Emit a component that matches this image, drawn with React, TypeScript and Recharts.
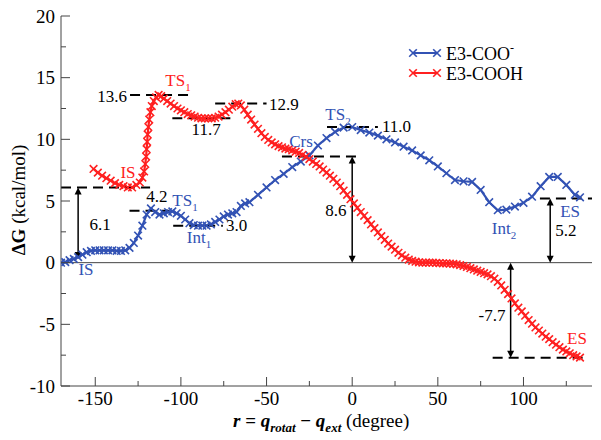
import React from 'react';
import { LineChart, Line, XAxis, YAxis, ReferenceLine, ReferenceDot, Label } from 'recharts';

// E3-COO- (blue)
const blueX = [-170, -167.5, -165, -162.5, -160, -157.5, -155, -152.5, -150, -147.5, -145, -142.5, -140, -137.5, -135, -132.5, -130, -127.5, -125, -122.5, -120, -117.5, -115, -112.5, -110, -107.5, -105, -102.5, -100, -97.5, -95, -92.5, -90, -87.5, -85, -82.5, -80, -77.5, -75, -72.5, -70, -67.5, -65, -62.5, -60, -55, -50, -45, -40, -35, -30, -25, -20, -15, -10, -5, 0, 5, 10, 15, 20, 25, 30, 35, 40, 45, 50, 55, 60, 65, 70, 75, 80, 85, 90, 95, 100, 105, 110, 115, 120, 125, 130, 133];
const blueY = [0.0, 0.05, 0.2, 0.3, 0.45, 0.65, 0.85, 0.95, 1.0, 1.0, 1.0, 1.0, 1.0, 0.95, 0.95, 1.0, 1.2, 1.6, 2.2, 3.0, 3.9, 4.4, 4.1, 3.9, 4.0, 4.1, 4.15, 4.0, 3.8, 3.5, 3.2, 3.05, 3.0, 3.0, 3.0, 3.1, 3.3, 3.5, 3.75, 3.9, 4.0, 4.1, 4.6, 4.8, 4.9, 5.5, 6.1, 6.7, 7.2, 7.75, 8.2, 8.7, 9.5, 10.1, 10.6, 10.95, 11.0, 10.75, 10.55, 10.3, 10.0, 9.75, 9.4, 9.1, 8.7, 8.3, 7.8, 7.25, 6.7, 6.6, 6.55, 5.9, 4.9, 4.25, 4.3, 4.55, 4.85, 5.35, 6.2, 6.95, 6.95, 6.3, 5.5, 5.3];

// E3-COOH (red)
const redX = [-151, -148.5, -146, -143.5, -141, -138.5, -136, -133.5, -131, -128.5, -126, -124, -122.5, -121.5, -120.8, -120.3, -120, -119.7, -119.4, -119, -118.5, -117.8, -117, -115.8, -114.5, -113, -111.5, -110, -108, -106, -104, -102, -100, -98, -96, -94, -92, -90, -88, -86, -84, -82, -80, -78, -76, -74, -72, -70, -68, -66.5, -65, -63, -61, -59, -57, -55, -53, -51, -49, -47, -45, -43, -41, -39, -37, -35, -33, -31, -29, -27, -25, -23, -21, -19, -17, -15, -13, -11, -9, -7, -5, -3, -1, 1, 3, 5, 7, 9, 11, 13, 15, 17, 19, 21, 23, 25, 27, 29, 31, 33, 35, 37, 39, 41, 43, 45, 47, 49, 51, 53, 55, 57, 59, 61, 63, 65, 67, 69, 71, 73, 75, 77, 79, 81, 83, 85, 87, 89, 91, 93, 95, 97, 99, 101, 103, 105, 107, 109, 111, 113, 115, 117, 119, 121, 123, 125, 127, 129, 131, 133];
const redY = [7.6, 7.3, 7.05, 6.85, 6.65, 6.45, 6.3, 6.2, 6.1, 6.1, 6.3, 6.5, 6.9, 7.4, 8.0, 8.6, 9.2, 9.8, 10.4, 11.0, 11.6, 12.2, 12.7, 13.1, 13.4, 13.6, 13.5, 13.3, 13.1, 12.9, 12.7, 12.5, 12.35, 12.2, 12.05, 11.95, 11.85, 11.75, 11.7, 11.7, 11.7, 11.7, 11.75, 11.85, 12.0, 12.2, 12.4, 12.65, 12.85, 12.9, 12.75, 12.4, 12.0, 11.6, 11.2, 10.85, 10.5, 10.2, 9.95, 9.75, 9.6, 9.45, 9.35, 9.25, 9.2, 9.1, 9.0, 8.9, 8.75, 8.6, 8.4, 8.2, 8.0, 7.8, 7.55, 7.3, 7.05, 6.8, 6.5, 6.2, 5.85, 5.5, 5.15, 4.8, 4.45, 4.1, 3.8, 3.45, 3.1, 2.8, 2.45, 2.15, 1.85, 1.55, 1.3, 1.05, 0.8, 0.6, 0.4, 0.25, 0.15, 0.08, 0.03, 0.0, 0.0, 0.0, 0.0, -0.02, -0.03, -0.05, -0.05, -0.07, -0.1, -0.13, -0.2, -0.27, -0.35, -0.45, -0.55, -0.65, -0.75, -0.85, -0.95, -1.1, -1.3, -1.55, -1.85, -2.2, -2.55, -2.9, -3.3, -3.65, -3.95, -4.3, -4.65, -4.95, -5.25, -5.5, -5.75, -6.0, -6.2, -6.45, -6.65, -6.85, -7.05, -7.2, -7.35, -7.5, -7.6, -7.7];

const xTicks = [-150, -125, -100, -75, -50, -25, 0, 25, 50, 75, 100, 125];
const yTicks = [-10, -7.5, -5, -2.5, 0, 2.5, 5, 7.5, 10, 12.5, 15, 17.5, 20];

const blueData = blueX.map((x, i) => ({ x, y: blueY[i] }));
const redData = redX.map((x, i) => ({ x, y: redY[i] }));

const BLUE = '#3252b4';
const RED = '#ff2020';
const FRAME = '#444';
const serif = { fontFamily: "'Liberation Serif', 'Times New Roman', serif" };

// dashed energy levels
const levels = [
  { y: 6.1, from: -170, to: -118 },
  { y: 4.2, from: -130, to: -107 },
  { y: 13.6, from: -129.7, to: -93.5 },
  { y: 11.7, from: -105, to: -70 },
  { y: 12.9, from: -80, to: -50 },
  { y: 3.0, from: -104.5, to: -75.5 },
  { y: 8.6, from: -41, to: 3.5 },
  { y: 11.0, from: -14.7, to: 15 },
  { y: 5.2, from: 109.6, to: 140 },
  { y: -7.7, from: 82, to: 134.7 },
];

// double arrows
const arrows = [
  { x: -160, a: 0.3, b: 6.1 },
  { x: 0, a: 0, b: 8.6 },
  { x: 115.6, a: 0, b: 5.2 },
  { x: 92.5, a: 0, b: -7.7 },
];

const Cross = (props: any) => {
  const { cx, cy, stroke } = props;
  if (cx == null || cy == null) return null;
  const s = 3.8;
  return (
    <g>
      <line x1={cx - s} y1={cy - s} x2={cx + s} y2={cy + s} stroke={stroke} strokeWidth={1.6} />
      <line x1={cx - s} y1={cy + s} x2={cx + s} y2={cy - s} stroke={stroke} strokeWidth={1.6} />
    </g>
  );
};

const tickLen = (v: number, step: number) => (Math.abs(v % step) < 1e-6 ? 9 : 5);

const BottomTick = (props: any) => {
  const { x, y, payload } = props;
  const v = payload.value;
  const len = tickLen(v, 50);
  return (
    <g>
      <line x1={x} y1={y} x2={x} y2={y - len} stroke={FRAME} strokeWidth={1} />
      {len === 9 && (
        <text x={x} y={y + 19} textAnchor="middle" fontSize={19} style={serif} fill="#000">
          {v}
        </text>
      )}
    </g>
  );
};

const TopTick = (props: any) => {
  const { x, y, payload } = props;
  const len = tickLen(payload.value, 50);
  return <line x1={x} y1={y} x2={x} y2={y + len} stroke={FRAME} strokeWidth={1} />;
};

const LeftTick = (props: any) => {
  const { x, y, payload } = props;
  const v = payload.value;
  const len = tickLen(v, 5);
  return (
    <g>
      <line x1={x} y1={y} x2={x + len} y2={y} stroke={FRAME} strokeWidth={1} />
      {len === 9 && (
        <text x={x - 6} y={y + 6.5} textAnchor="end" fontSize={19} style={serif} fill="#000">
          {v}
        </text>
      )}
    </g>
  );
};

const RightTick = (props: any) => {
  const { x, y, payload } = props;
  const len = tickLen(payload.value, 5);
  return <line x1={x} y1={y} x2={x - len} y2={y} stroke={FRAME} strokeWidth={1} />;
};

const ArrowShape = (p: any) => {
  const { x1, y1, y2 } = p;
  const top = Math.min(y1, y2);
  const bot = Math.max(y1, y2);
  const h = 7;
  const w = 3.5;
  return (
    <g>
      <line x1={x1} x2={x1} y1={top + h - 1} y2={bot - h + 1} stroke="#000" strokeWidth={1.5} />
      <polygon points={`${x1},${top} ${x1 - w},${top + h} ${x1 + w},${top + h}`} fill="#000" />
      <polygon points={`${x1},${bot} ${x1 - w},${bot - h} ${x1 + w},${bot - h}`} fill="#000" />
    </g>
  );
};

const tag = (
  key: string,
  x: number,
  y: number,
  main: string,
  sub: string | null,
  color: string,
  anchor: 'start' | 'middle' | 'end' = 'middle'
) => (
  <ReferenceDot
    key={key}
    x={x}
    y={y}
    r={0}
    shape={(p: any) => (
      <text x={p.cx} y={p.cy + 6} textAnchor={anchor} fontSize={17} style={serif} fill={color}>
        {main}
        {sub && (
          <tspan fontSize={11} dy={5}>
            {sub}
          </tspan>
        )}
      </text>
    )}
  />
);

export default function App() {
  return (
    <div style={{ position: 'absolute', left: 0, top: 0, width: 601, height: 440, background: '#fff' }}>
      <LineChart width={601} height={440} margin={{ top: 16, right: 9, bottom: 0, left: 0 }}>
        <XAxis
          dataKey="x"
          type="number"
          domain={[-170, 140]}
          ticks={xTicks}
          interval={0}
          allowDataOverflow
          height={54}
          tickSize={0}
          tickMargin={0}
          tick={<BottomTick />}
          axisLine={{ stroke: FRAME, strokeWidth: 1 }}
        >
          <Label
            content={() => (
              <text x={233} y={427} fontSize={19} style={serif} fill="#000">
                <tspan fontWeight="bold" fontStyle="italic">r</tspan>
                <tspan fontWeight="bold"> = </tspan>
                <tspan fontWeight="bold" fontStyle="italic">q</tspan>
                <tspan fontWeight="bold" fontStyle="italic" fontSize={13} dy={5}>rotat</tspan>
                <tspan fontWeight="bold" dy={-5}> − </tspan>
                <tspan fontWeight="bold" fontStyle="italic">q</tspan>
                <tspan fontWeight="bold" fontStyle="italic" fontSize={13} dy={5}>ext</tspan>
                <tspan dy={-5}> (degree)</tspan>
              </text>
            )}
          />
        </XAxis>
        <XAxis
          xAxisId="top"
          orientation="top"
          type="number"
          domain={[-170, 140]}
          ticks={xTicks}
          interval={0}
          allowDataOverflow
          height={0}
          tickSize={0}
          tickMargin={0}
          tick={<TopTick />}
          axisLine={{ stroke: FRAME, strokeWidth: 1 }}
        />
        <YAxis
          type="number"
          domain={[-10, 20]}
          ticks={yTicks}
          interval={0}
          allowDataOverflow
          width={61}
          tickSize={0}
          tickMargin={0}
          tick={<LeftTick />}
          axisLine={{ stroke: FRAME, strokeWidth: 1 }}
        >
          <Label
            content={() => (
              <text
                transform="translate(25, 200) rotate(-90)"
                textAnchor="middle"
                fontSize={19}
                style={serif}
                fill="#000"
              >
                <tspan fontWeight="bold">ΔG</tspan>
                <tspan> (kcal/mol)</tspan>
              </text>
            )}
          />
        </YAxis>
        <YAxis
          yAxisId="right"
          orientation="right"
          type="number"
          domain={[-10, 20]}
          ticks={yTicks}
          interval={0}
          allowDataOverflow
          width={0}
          tickSize={0}
          tickMargin={0}
          tick={<RightTick />}
          axisLine={{ stroke: FRAME, strokeWidth: 1 }}
        />

        <ReferenceLine y={0} stroke={FRAME} strokeWidth={1} />

        <Line
          data={blueData}
          dataKey="y"
          type="linear"
          stroke={BLUE}
          strokeWidth={2.2}
          dot={<Cross stroke={BLUE} />}
          isAnimationActive={false}
        />
        <Line
          data={redData}
          dataKey="y"
          type="linear"
          stroke={RED}
          strokeWidth={2.2}
          dot={<Cross stroke={RED} />}
          isAnimationActive={false}
        />

        {levels.map((l, i) => (
          <ReferenceLine
            key={'lv' + i}
            segment={[{ x: l.from, y: l.y }, { x: l.to, y: l.y }]}
            stroke="#000"
            strokeWidth={2}
            strokeDasharray="10 6"
          />
        ))}
        {arrows.map((a, i) => (
          <ReferenceLine
            key={'ar' + i}
            segment={[{ x: a.x, y: a.a }, { x: a.x, y: a.b }]}
            shape={<ArrowShape />}
          />
        ))}

        {tag('isb', -155.4, -0.5, 'IS', null, BLUE)}
        {tag('isr', -130.9, 7.35, 'IS', null, RED)}
        {tag('ts1r', -101.7, 14.8, 'TS', '1', RED)}
        {tag('ts1b', -97.6, 5.1, 'TS', '1', BLUE)}
        {tag('int1', -89.4, 2.05, 'Int', '1', BLUE)}
        {tag('crs', -29.9, 9.86, 'Crs', null, BLUE)}
        {tag('ts2', -8.3, 12.05, 'TS', '2', BLUE)}
        {tag('int2', 88.6, 2.8, 'Int', '2', BLUE)}
        {tag('esb', 127.2, 4.2, 'ES', null, BLUE)}
        {tag('esr', 131.2, -6.1, 'ES', null, RED)}
        {tag('v136', -131.5, 13.5, '13.6', null, '#000', 'end')}
        {tag('v117', -85.3, 10.8, '11.7', null, '#000')}
        {tag('v129', -48.6, 12.87, '12.9', null, '#000', 'start')}
        {tag('v110', 17.4, 11.08, '11.0', null, '#000', 'start')}
        {tag('v61', -147.2, 3.13, '6.1', null, '#000')}
        {tag('v42', -114, 5.4, '4.2', null, '#000')}
        {tag('v30', -73.7, 3.05, '3.0', null, '#000', 'start')}
        {tag('v86', -9.5, 4.27, '8.6', null, '#000')}
        {tag('v52', 124.8, 2.65, '5.2', null, '#000')}
        {tag('v77', 81.6, -4.24, '-7.7', null, '#000')}
      </LineChart>

      <svg width={601} height={440} style={{ position: 'absolute', left: 0, top: 0, pointerEvents: 'none' }}>
        <line x1={413} y1={53} x2={437} y2={53} stroke={BLUE} strokeWidth={2} />
        <Cross cx={413} cy={53} stroke={BLUE} />
        <Cross cx={437} cy={53} stroke={BLUE} />
        <text x={446} y={59.5} fontSize={18} style={serif} fill="#000">
          E3-COO<tspan fontSize={12} dy={-8}>-</tspan>
        </text>
        <line x1={413} y1={73} x2={437} y2={73} stroke={RED} strokeWidth={2} />
        <Cross cx={413} cy={73} stroke={RED} />
        <Cross cx={437} cy={73} stroke={RED} />
        <text x={446} y={79.5} fontSize={18} style={serif} fill="#000">
          E3-COOH
        </text>
      </svg>
    </div>
  );
}
